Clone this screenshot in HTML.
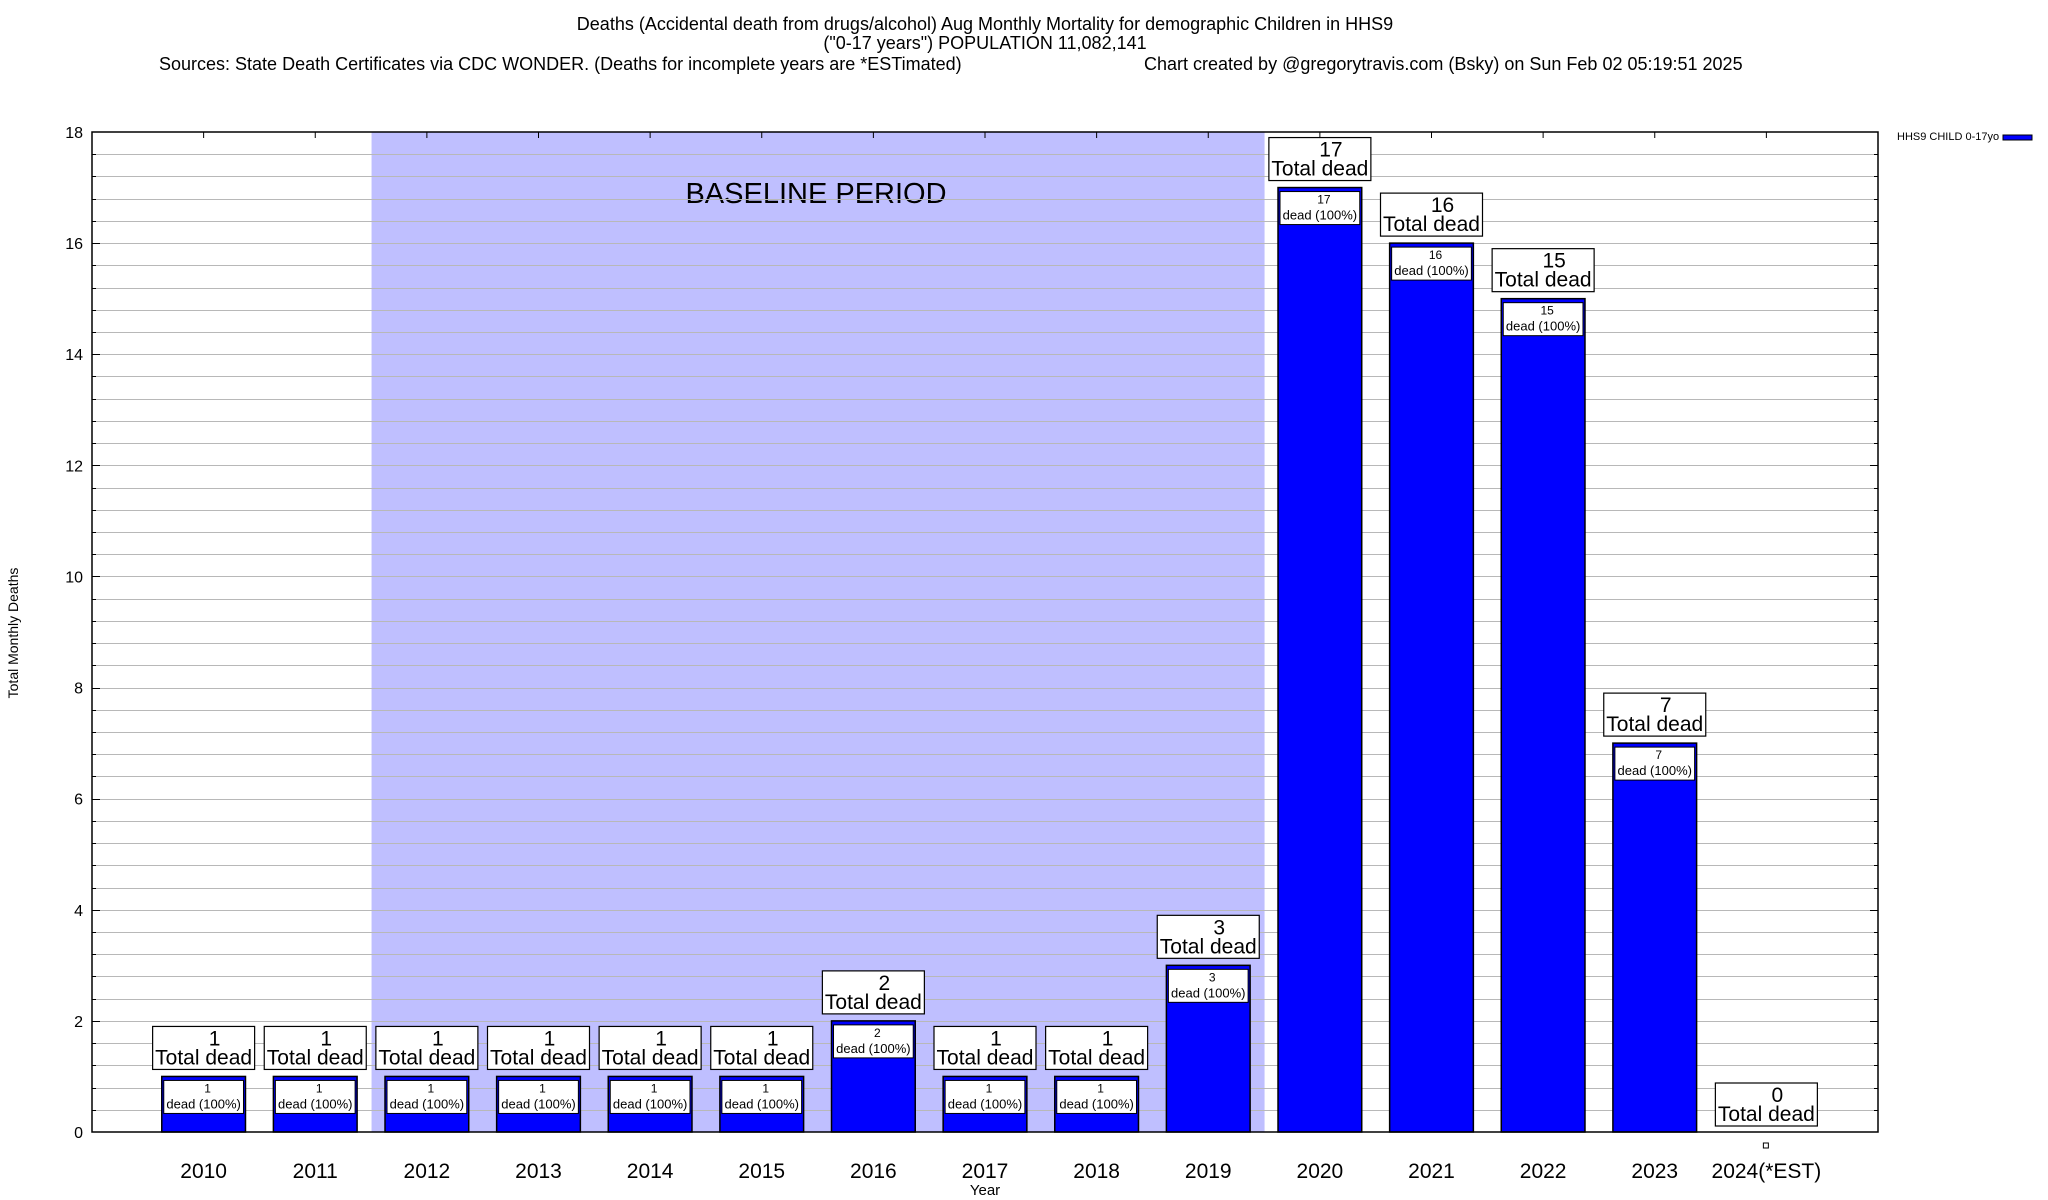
<!DOCTYPE html>
<html><head><meta charset="utf-8"><style>
html,body{margin:0;padding:0;background:#fff;}
svg{display:block;font-family:"Liberation Sans",Arial,sans-serif;}
</style></head><body>
<svg id="chart" width="2048" height="1200" viewBox="0 0 2048 1200">
<g>
<text x="985" y="30" font-size="18" text-anchor="middle">Deaths (Accidental death from drugs/alcohol) Aug Monthly Mortality for demographic Children in HHS9</text>
<text x="985" y="49" font-size="18" text-anchor="middle">("0-17 years") POPULATION 11,082,141</text>
<text x="159" y="70" font-size="18">Sources: State Death Certificates via CDC WONDER. (Deaths for incomplete years are *ESTimated)</text>
<text x="1144" y="70" font-size="18">Chart created by @gregorytravis.com (Bsky) on Sun Feb 02 05:19:51 2025</text>
</g>
<g id="grid"></g>
<g id="bars"></g>
<g id="axes"></g>
<text x="18" y="633" font-size="14" text-anchor="middle" transform="rotate(-90 18 633)">Total Monthly Deaths</text>
<text x="985" y="1195" font-size="15" text-anchor="middle">Year</text>
<g>
<text x="1897" y="140" font-size="11">HHS9 CHILD 0-17yo</text>
<rect x="2003" y="135" width="29" height="5" fill="#0000ff" stroke="#000" stroke-width="1"/>
</g>
</svg>
<script>
const years = ["2010","2011","2012","2013","2014","2015","2016","2017","2018","2019","2020","2021","2022","2023","2024(*EST)"];
const deaths = [1,1,1,1,1,1,2,1,1,3,17,16,15,7,0];
const yTicks = [0,2,4,6,8,10,12,14,16,18];
const baselineStart = 1.5, baselineEnd = 9.5;

const L=92,R=1878,T=132,B=1132;
const xs = i => L + (i+1)*(R-L)/16;
const ys = v => B - v*(B-T)/18;
const NS="http://www.w3.org/2000/svg";
function mk(tag, attrs, parent, txt){const e=document.createElementNS(NS,tag);for(const k in attrs)e.setAttribute(k,attrs[k]);if(txt!==undefined)e.textContent=txt;parent.appendChild(e);return e;}
const grid=document.getElementById('grid'), bars=document.getElementById('bars'), axes=document.getElementById('axes');

// baseline shading
const sh = mk('rect',{x:xs(baselineStart)+0.5,y:T,width:xs(baselineEnd)-xs(baselineStart),height:B-T,fill:'#bfbfff'},grid);


const bt = mk('text',{x:816,y:203,'font-size':29,'text-anchor':'middle'},grid,'BASELINE PERIOD');



// grid lines every 0.4
for(let k=1;k<45;k++){
  const v=k*0.4, y=Math.round(ys(v))+0.5;
  const g=mk('line',{x1:L,x2:R,y1:y,y2:y,stroke:'#b8b8b8','stroke-width':1},grid);
  
  
  const major = Math.abs(v/2-Math.round(v/2))<1e-6;
  const len = major?8:4;
  mk('line',{x1:L,x2:L+len,y1:y,y2:y,stroke:'#000'},axes);
  mk('line',{x1:R-len,x2:R,y1:y,y2:y,stroke:'#000'},axes);
}
yTicks.forEach(v=>{
  const t=mk('text',{x:83,y:ys(v)+6,'font-size':16,'text-anchor':'end'},axes,String(v));
  
  
});

const bw = 0.75*(R-L)/16;
years.forEach((yr,i)=>{
  const cx=xs(i), v=deaths[i], top=ys(v);
  const g=mk('g',{},bars);
  
  
  if(v>0){
    mk('rect',{x:cx-bw/2,y:top,width:bw,height:B-top,fill:'#0000ff',stroke:'#000','stroke-width':1.5},g);
    mk('rect',{x:cx-bw/2+2,y:top+4,width:bw-4,height:33,fill:'#fff',stroke:'#000','stroke-width':1},g);
    mk('text',{x:cx+4,y:top+16,'font-size':12,'text-anchor':'middle'},g,String(v));
    mk('text',{x:cx,y:top+32,'font-size':13,'text-anchor':'middle'},g,'dead (100%)');
  } else {
    mk('rect',{x:cx-3,y:B+11,width:5,height:5,fill:'#fff',stroke:'#000','stroke-width':1},g);
  }
  const by = v>0? top-50 : B-49;
  const box=mk('g',{},g);
  
  
  mk('rect',{x:cx-51,y:by,width:102,height:43,fill:'#fff',stroke:'#000','stroke-width':1.2},box);
  mk('text',{x:cx+11,y:by+19,'font-size':21,'text-anchor':'middle'},box,String(v));
  mk('text',{x:cx,y:by+38,'font-size':21,'text-anchor':'middle'},box,'Total dead');
  const xl=mk('text',{x:cx,y:1178,'font-size':21,'text-anchor':'middle'},axes,yr);
  
  
  mk('line',{x1:cx,x2:cx,y1:T,y2:T+6,stroke:'#000'},axes);
});
const fr=mk('rect',{x:L,y:T,width:R-L,height:B-T,fill:'none',stroke:'#000','stroke-width':1.5},axes);


</script>
</body></html>
